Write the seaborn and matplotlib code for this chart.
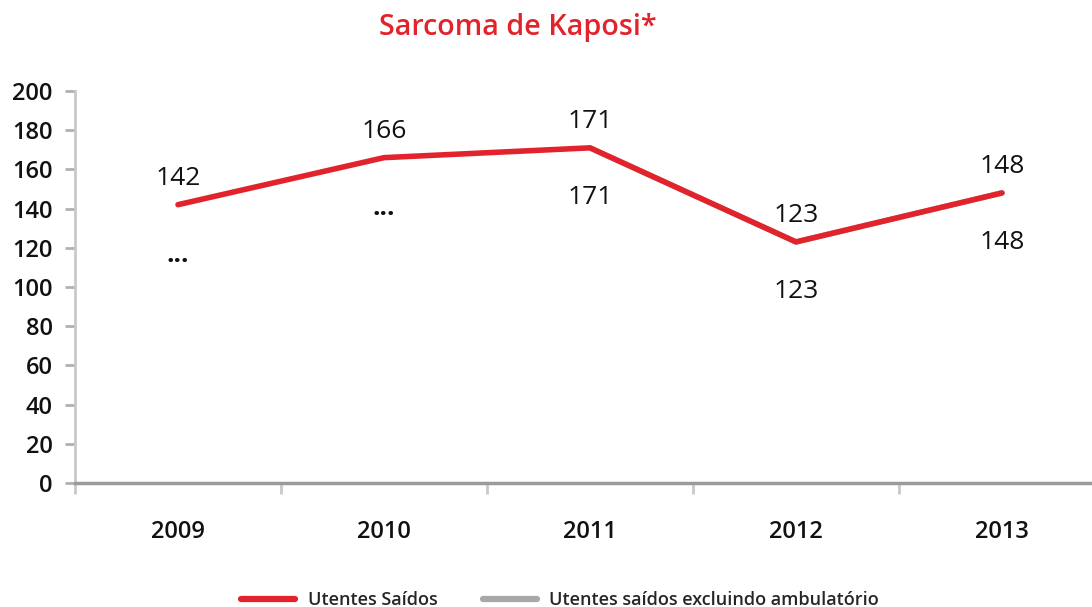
import numpy as np
import pandas as pd
import matplotlib.pyplot as plt
import seaborn as sns
from matplotlib.lines import Line2D

# data
years = ["2009", "2010", "2011", "2012", "2013"]
saidos = [142, 166, 171, 123, 148]
excl_amb = [np.nan, np.nan, 171, 123, 148]  # "..." = not available
excl_labels = ["...", "...", "171", "123", "148"]

RED = "#e3232c"
GREY = "#a7a8aa"

sns.set_theme(style="white")
plt.rcParams["font.family"] = ["Open Sans", "DejaVu Sans"]

df = pd.DataFrame({
    "Ano": years * 2,
    "valor": saidos + excl_amb,
    "serie": ["Utentes Saídos"] * 5 + ["Utentes saídos excluindo ambulatório"] * 5,
})

fig = plt.figure(figsize=(10.92, 6.07), dpi=100)
ax = fig.add_axes([75 / 1092, 124 / 607, 1030 / 1092, 392 / 607])

sns.lineplot(data=df[df.serie != "Utentes Saídos"], x="Ano", y="valor",
             color=GREY, linewidth=4, ax=ax, legend=False)
sns.lineplot(data=df[df.serie == "Utentes Saídos"], x="Ano", y="valor",
             color=RED, linewidth=4, ax=ax, legend=False)

ax.set_xlim(-0.5, 4.5)
ax.set_ylim(0, 200)
ax.set_yticks(range(0, 201, 20))
ax.set_xticks(range(len(years)))
ax.set_xticklabels(years)
ax.set_xticks(np.arange(-0.5, 5, 1), minor=True)
ax.set_xlabel("")
ax.set_ylabel("")

for s in ["top", "right"]:
    ax.spines[s].set_visible(False)
ax.spines["left"].set_color("#c8c9cb")
ax.spines["left"].set_linewidth(2)
ax.spines["bottom"].set_color("#9a9b9d")
ax.spines["bottom"].set_linewidth(2.5)

ax.tick_params(axis="y", which="major", left=True, length=7, width=2,
               color="#b0b1b3", labelsize=17, pad=9)
ax.tick_params(axis="x", which="major", bottom=False, labelsize=17, pad=21)
ax.tick_params(axis="x", which="minor", bottom=True, length=8, width=2,
               color="#c8c9cb")
for lab in ax.get_yticklabels() + ax.get_xticklabels():
    lab.set_fontweight("semibold")
    lab.set_color("#111111")

# labels: main series above, "excluding ambulatory" below
for i, v in enumerate(saidos):
    ax.annotate(str(v), (i, v), xytext=(0, 19), textcoords="offset points",
                ha="center", va="center", fontsize=19, color="#111111",
                fontweight="medium")
for i, lab in enumerate(excl_labels):
    base = excl_amb[i] if not np.isnan(excl_amb[i]) else saidos[i]
    ax.annotate(lab, (i, base), xytext=(0, -36), textcoords="offset points",
                ha="center", va="center", fontsize=19, color="#111111",
                fontweight="bold" if lab == "..." else "medium")

fig.text(518 / 1092, 1 - 27 / 607, "Sarcoma de Kaposi*", color=RED,
         fontsize=20.7, fontweight="semibold", ha="center", va="center")

handles = [Line2D([0], [0], color=RED, lw=4.5),
           Line2D([0], [0], color=GREY, lw=4.5)]
fig.legend(handles, ["Utentes Saídos", "Utentes saídos excluindo ambulatório"],
           loc="center", bbox_to_anchor=(560 / 1092, 1 - 600 / 607), ncol=2,
           frameon=False, handlelength=3.0, handletextpad=0.7,
           columnspacing=2.5, prop={"size": 13, "weight": "semibold"})

fig.savefig("out.png", dpi=100)
